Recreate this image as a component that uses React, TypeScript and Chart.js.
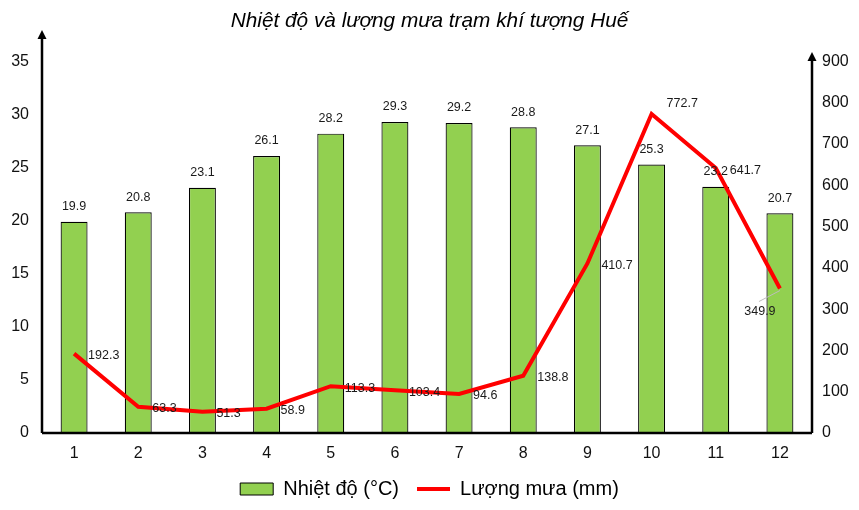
import React, { useEffect, useRef } from "react";
import { Chart, registerables } from "chart.js";

Chart.register(...registerables);

const months = ["1", "2", "3", "4", "5", "6", "7", "8", "9", "10", "11", "12"];
const temperature = [19.9, 20.8, 23.1, 26.1, 28.2, 29.3, 29.2, 28.8, 27.1, 25.3, 23.2, 20.7];
const rainfall = [192.3, 63.3, 51.3, 58.9, 113.3, 103.4, 94.6, 138.8, 410.7, 772.7, 641.7, 349.9];
const tempTicks = [0, 5, 10, 15, 20, 25, 30, 35];
const rainTicks = [0, 100, 200, 300, 400, 500, 600, 700, 800, 900];

const titleText = "Nhiệt độ và lượng mưa trạm khí tượng Huế";
const tempLabel = "Nhiệt độ (°C)";
const rainLabel = "Lượng mưa (mm)";

const FONT = "Arial, 'Liberation Sans', sans-serif";

const decorPlugin = {
  id: "decor",
  afterDatasetsDraw(chart: any) {
    const { ctx, chartArea } = chart;
    const { left, right, bottom } = chartArea;
    ctx.save();
    ctx.strokeStyle = "#000";
    ctx.fillStyle = "#000";
    ctx.lineWidth = 2.5;
    ctx.beginPath();
    ctx.moveTo(left, bottom);
    ctx.lineTo(right, bottom);
    ctx.moveTo(left, bottom);
    ctx.lineTo(left, 38);
    ctx.moveTo(right, bottom);
    ctx.lineTo(right, 60);
    ctx.stroke();
    const arrow = (x: number, tip: number) => {
      ctx.beginPath();
      ctx.moveTo(x, tip);
      ctx.lineTo(x - 4.5, tip + 9);
      ctx.lineTo(x + 4.5, tip + 9);
      ctx.closePath();
      ctx.fill();
    };
    arrow(left, 30);
    arrow(right, 52);

    ctx.font = "12.5px " + FONT;
    ctx.fillStyle = "#1a1a1a";
    ctx.textAlign = "center";
    ctx.textBaseline = "middle";
    const barMeta = chart.getDatasetMeta(0);
    barMeta.data.forEach((el: any, i: number) => {
      ctx.fillText(String(temperature[i]), el.x, el.y - 15);
    });
    const lineMeta = chart.getDatasetMeta(1);
    lineMeta.data.forEach((el: any, i: number) => {
      const txt = rainfall[i].toFixed(1);
      if (i === 9) {
        ctx.textAlign = "left";
        ctx.fillText(txt, el.x + 15, el.y - 10);
      } else if (i === 11) {
        ctx.strokeStyle = "#bdbdbd";
        ctx.lineWidth = 1;
        ctx.beginPath();
        ctx.moveTo(el.x, el.y + 2);
        ctx.lineTo(el.x - 21, el.y + 13);
        ctx.stroke();
        ctx.textAlign = "center";
        ctx.fillText(txt, el.x - 20, el.y + 23);
      } else {
        ctx.textAlign = "left";
        ctx.fillText(txt, el.x + 14, el.y + 2);
      }
    });
    ctx.restore();
  },
};

export default function App() {
  const ref = useRef<HTMLCanvasElement | null>(null);

  useEffect(() => {
    document.body.style.margin = "0";
    const canvas = ref.current;
    if (!canvas) return;
    const chart = new Chart(canvas, {
      type: "bar",
      data: {
        labels: months,
        datasets: [
          {
            type: "bar",
            label: tempLabel,
            data: temperature,
            backgroundColor: "#92D050",
            borderColor: "#000",
            borderWidth: 1.2,
            barPercentage: 0.42,
            categoryPercentage: 1,
            yAxisID: "y",
            order: 2,
          } as any,
          {
            type: "line",
            label: rainLabel,
            data: rainfall,
            borderColor: "#FF0000",
            backgroundColor: "#FF0000",
            borderWidth: 4,
            pointRadius: 0,
            tension: 0,
            yAxisID: "y1",
            order: 1,
          } as any,
        ],
      },
      options: {
        responsive: false,
        animation: false,
        layout: { padding: { left: 0, right: 0, top: 0, bottom: 1 } },
        scales: {
          x: {
            grid: { display: false, drawTicks: false },
            border: { display: false },
            ticks: { color: "#111", font: { size: 16, family: FONT, lineHeight: 1 }, padding: 13 },
            afterFit: (s: any) => {
              s.height = 28;
            },
          },
          y: {
            position: "left",
            min: 0,
            max: 35,
            afterBuildTicks: (s: any) => {
              s.ticks = tempTicks.map((v) => ({ value: v }));
            },
            grid: { display: false, drawTicks: false },
            border: { display: false },
            ticks: { color: "#111", font: { size: 16, family: FONT }, padding: 13 },
            afterFit: (s: any) => {
              s.width = 42;
            },
          },
          y1: {
            position: "right",
            min: 0,
            max: 900,
            afterBuildTicks: (s: any) => {
              s.ticks = rainTicks.map((v) => ({ value: v }));
            },
            grid: { display: false, drawTicks: false },
            border: { display: false },
            ticks: { color: "#111", font: { size: 16, family: FONT }, padding: 10 },
            afterFit: (s: any) => {
              s.width = 47;
            },
          },
        },
        plugins: {
          title: {
            display: true,
            text: titleText,
            color: "#000",
            font: { size: 20.8, style: "italic", weight: "normal", family: FONT },
            padding: { top: 9, bottom: 27.5 },
          },
          legend: {
            display: true,
            position: "bottom",
            labels: {
              usePointStyle: true,
              pointStyleWidth: 33,
              boxHeight: 12,
              padding: 18,
              color: "#000",
              font: { size: 20, family: FONT },
              sort: (a: any, b: any) => a.datasetIndex - b.datasetIndex,
              generateLabels: (ch: any) => {
                const items = Chart.defaults.plugins.legend.labels.generateLabels(ch);
                return items.map((it: any) => {
                  if (it.datasetIndex === 0) {
                    return { ...it, pointStyle: "rect", fillStyle: "#92D050", strokeStyle: "#000", lineWidth: 1 };
                  }
                  return { ...it, pointStyle: "line", fillStyle: "#FF0000", strokeStyle: "#FF0000", lineWidth: 4 };
                });
              },
            },
          },
          tooltip: { enabled: false },
        },
      } as any,
      plugins: [decorPlugin],
    });
    return () => chart.destroy();
  }, []);

  return <canvas ref={ref} width={859} height={510} style={{ display: "block" }} />;
}
